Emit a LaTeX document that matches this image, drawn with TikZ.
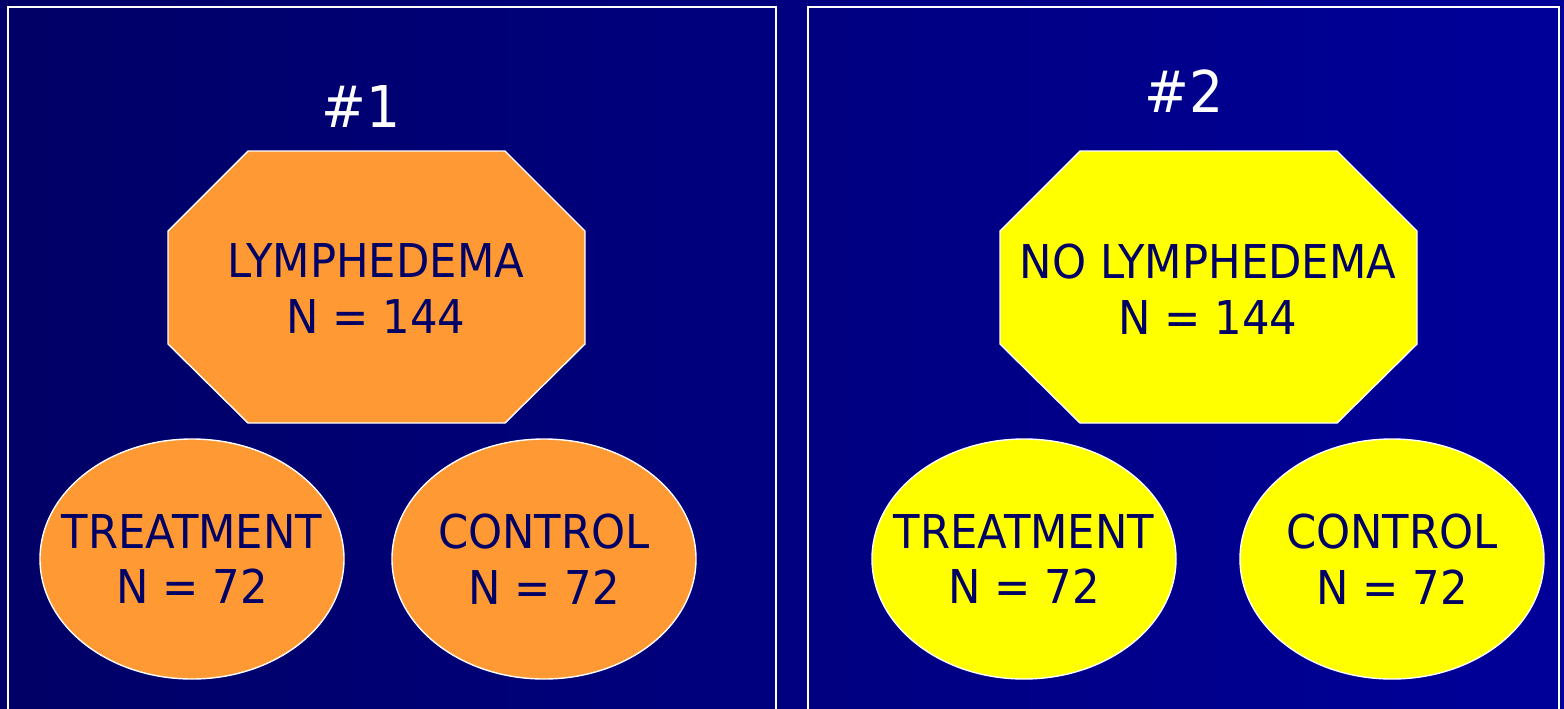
\documentclass[tikz,border=0pt]{standalone}
\usepackage{fontspec}
\setmainfont{DejaVu Sans}[FakeStretch=0.93]
\usetikzlibrary{shapes.geometric}
\definecolor{bgL}{HTML}{000066}
\definecolor{bgR}{HTML}{000099}
\definecolor{navy}{HTML}{000066}
\definecolor{orng}{HTML}{FF9933}
\definecolor{yel}{HTML}{FFFF00}
\tikzset{
  frame/.style={draw=white, line width=1.1pt},
  lbl/.style={text=navy, align=center, font=\fontsize{23.3}{28}\selectfont, inner sep=0pt},
  oval/.style={ellipse, draw=white, line width=0.7pt, minimum width=152pt, minimum height=120pt, inner sep=0pt},
  octo/.style={draw=white, line width=0.7pt},
  title/.style={text=white, font=\fontsize{28.8}{34}\selectfont, inner sep=0pt, anchor=base}
}
\begin{document}
\begin{tikzpicture}[x=0.5pt,y=-0.5pt]
\useasboundingbox (0,0) rectangle (1564,708);
\shade[left color=bgL, right color=bgR] (0,0) rectangle (1564,708);
% frames
\draw[frame] (8,720) -- (8,7) -- (776,7) -- (776,720);
\draw[frame] (808,720) -- (808,7) -- (1559,7) -- (1559,720);
% titles
\node[title] (t1) at (361,127) {\#1};
\node[title] (t2) at (1184,112) {\#2};
% octagons
\filldraw[octo, fill=orng] (248,151) -- (505,151) -- (585,231) -- (585,344) -- (505,423) -- (248,423) -- (168,344) -- (168,231) -- cycle;
\filldraw[octo, fill=yel] (1080,151) -- (1337,151) -- (1417,231) -- (1417,344) -- (1337,423) -- (1080,423) -- (1000,344) -- (1000,231) -- cycle;
\node[lbl] (lym) at (376,289) {LYMPHEDEMA\\N = 144};
\node[lbl] (nolym) at (1208,289) {NO LYMPHEDEMA\\N = 144};
% ellipses
\node[oval, fill=orng] (tr1) at (192,559) {};
\node[lbl] (tr1t) at (tr1.center) {TREATMENT\\N = 72};
\node[oval, fill=orng] (co1) at (544,559) {};
\node[lbl] (co1t) at (co1.center) {CONTROL\\N = 72};
\node[oval, fill=yel] (tr2) at (1024,559) {};
\node[lbl] (tr2t) at (tr2.center) {TREATMENT\\N = 72};
\node[oval, fill=yel] (co2) at (1392,559) {};
\node[lbl] (co2t) at (co2.center) {CONTROL\\N = 72};
\end{tikzpicture}
\end{document}
